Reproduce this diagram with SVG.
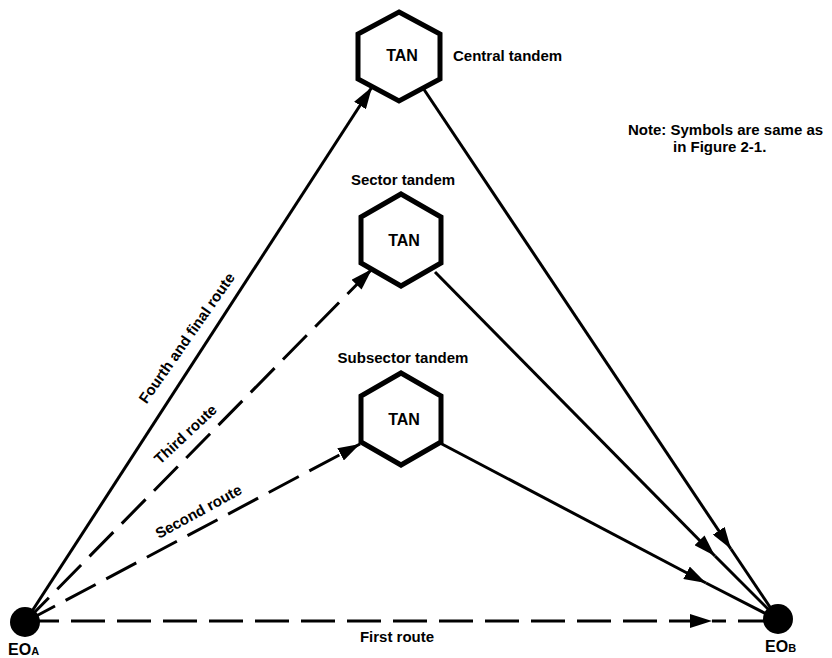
<svg xmlns="http://www.w3.org/2000/svg" width="832" height="658" viewBox="0 0 832 658">
<style>
text{font-family:"Liberation Sans",Arial,sans-serif;font-weight:bold;fill:#000}
.lbl{font-size:15px}
.tan{font-size:16px;text-anchor:middle}
.hex{fill:#fff;stroke:#000;stroke-width:5;stroke-linejoin:miter}
.ln{fill:none;stroke:#000;stroke-width:3}
.dash{stroke-dasharray:34 12}
</style>
<defs>
<marker id="arr" markerUnits="userSpaceOnUse" markerWidth="24" markerHeight="14" refX="22" refY="7" orient="auto">
<path d="M0,0 L22,7 L0,14 z" fill="#000"/>
</marker>
</defs>
<rect width="832" height="658" fill="#fff"/>
<g id="connectors">
<line class="ln" x1="25" y1="622" x2="372" y2="87" marker-end="url(#arr)"/>
<line class="ln dash" x1="25" y1="622" x2="372" y2="269" marker-end="url(#arr)"/>
<line class="ln dash" x1="25" y1="622" x2="360" y2="444" marker-end="url(#arr)"/>
<line class="ln dash" x1="25" y1="621" x2="712" y2="621" marker-end="url(#arr)"/>
<line class="ln dash" x1="712" y1="621" x2="778" y2="621" stroke-dashoffset="20"/>
<line class="ln" x1="423" y1="88" x2="731" y2="549" marker-end="url(#arr)"/>
<line class="ln" x1="731" y1="549" x2="778" y2="619"/>
<line class="ln" x1="435" y1="272" x2="715" y2="556" marker-end="url(#arr)"/>
<line class="ln" x1="715" y1="556" x2="778" y2="619"/>
<line class="ln" x1="440" y1="443" x2="706" y2="583" marker-end="url(#arr)"/>
<line class="ln" x1="706" y1="583" x2="778" y2="620"/>
</g>
<g id="central">
<polygon class="hex" points="399,12 440,34 440,79 399,101 358,79 358,34"/>
<text class="tan" x="402" y="61">TAN</text>
<text class="lbl" x="453" y="61">Central tandem</text>
</g>
<g id="sector">
<polygon class="hex" points="401,194 441,217 441,263 401,286 361,263 361,217"/>
<text class="tan" x="404" y="246">TAN</text>
<text class="lbl" x="403" y="185" text-anchor="middle">Sector tandem</text>
</g>
<g id="subsector">
<polygon class="hex" points="401,373 441,396 441,442 401,465 361,442 361,396"/>
<text class="tan" x="404" y="425">TAN</text>
<text class="lbl" x="403" y="363" text-anchor="middle">Subsector tandem</text>
</g>
<g id="eoa">
<circle cx="25" cy="622" r="15" fill="#000"/>
<text x="8" y="655" font-size="16">EO<tspan font-size="11">A</tspan></text>
</g>
<g id="eob">
<circle cx="778" cy="619" r="15" fill="#000"/>
<text x="765" y="652" font-size="16">EO<tspan font-size="11">B</tspan></text>
</g>
<g id="labels">
<text class="lbl" font-size="14" text-anchor="middle" transform="translate(191,341) rotate(-55)">Fourth and final route</text>
<text class="lbl" text-anchor="middle" transform="translate(189,438) rotate(-43)">Third route</text>
<text class="lbl" text-anchor="middle" transform="translate(201,516) rotate(-28.6)">Second route</text>
<text class="lbl" x="397" y="642" text-anchor="middle">First route</text>
</g>
<g id="note">
<text class="lbl" x="628" y="135">Note: Symbols are same as</text>
<text class="lbl" x="673" y="152">in Figure 2-1.</text>
</g>
</svg>
